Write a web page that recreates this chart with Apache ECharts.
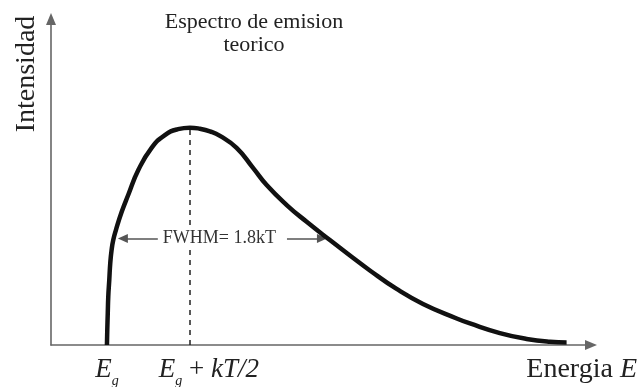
<!DOCTYPE html>
<html>
<head>
<meta charset="utf-8">
<script src="https://cdn.jsdelivr.net/npm/echarts@6/dist/echarts.min.js"></script>
<style>
  html, body { margin: 0; padding: 0; background: #ffffff; }
  #chart { width: 639px; height: 387px; }
</style>
</head>
<body>
<div id="chart"></div>
<script>
// Emission spectrum: energy as (E - Eg)/kT, intensity normalised to the peak value.
const energy = [0, 0.002, 0.005, 0.008, 0.014, 0.02, 0.028, 0.038, 0.054, 0.089, 0.128, 0.189, 0.269,
  0.349, 0.428, 0.5, 0.56, 0.62, 0.681, 0.781, 0.88, 0.962, 1.083, 1.203, 1.343, 1.464, 1.584, 1.745,
  1.904, 2.107, 2.187, 2.367, 2.528, 2.669, 2.769];
const intensity = [0, 0.069, 0.147, 0.222, 0.299, 0.377, 0.437, 0.483, 0.529, 0.613, 0.69, 0.805, 0.907,
  0.966, 0.993, 1.0, 0.995, 0.983, 0.962, 0.907, 0.815, 0.736, 0.644, 0.567, 0.483, 0.412, 0.343, 0.258,
  0.189, 0.122, 0.099, 0.055, 0.028, 0.015, 0.012];

// Marked energies on the horizontal axis and their labels
const tickValues = [0, 0.5];
const tickLabels = ['{e|E}{g|g}', '{p|E}{g|g}{r| + }{e|kT/2}'];

// Peak marker and full width at half maximum arrow
const peakEnergy = 0.5;
const peakIntensity = 1.0;
const fwhmLevel = 0.49;
const fwhmStart = 0.096;
const fwhmEnd = 1.295;
const fwhmText = 'FWHM= 1.8kT';

const titleText = 'Espectro de emision\nteorico';
const yTitle = 'Intensidad';
const xTitle = '{n|Energia }{i|E}';

const serif = 'Liberation Serif';
const curve = energy.map((e, i) => [e, intensity[i]]);

const chart = echarts.init(document.getElementById('chart'), null, { renderer: 'canvas' });

chart.setOption({
  animation: false,
  backgroundColor: '#ffffff',
  title: {
    text: titleText,
    left: 254,
    top: 11,
    padding: 0,
    textAlign: 'center',
    textStyle: { fontFamily: serif, fontSize: 22, fontWeight: 'normal', color: '#222', lineHeight: 23 }
  },
  grid: { left: 51, right: 48, top: 19, bottom: 42, containLabel: false, outerBoundsMode: 'none' },
  xAxis: {
    type: 'value',
    min: -0.337,
    max: 2.916,
    name: xTitle,
    nameLocation: 'end',
    nameGap: 46,
    nameTextStyle: {
      align: 'right',
      verticalAlign: 'top',
      padding: [10, 0, 0, 0],
      rich: {
        n: { fontFamily: serif, fontSize: 28, color: '#222', lineHeight: 30 },
        i: { fontFamily: serif, fontSize: 28, fontStyle: 'italic', color: '#222', lineHeight: 30 }
      }
    },
    axisLine: {
      show: true,
      onZero: true,
      symbol: ['none', 'triangle'],
      symbolSize: [10, 12],
      lineStyle: { color: '#666', width: 1.6 }
    },
    axisTick: { show: false },
    splitLine: { show: false },
    axisLabel: {
      show: true,
      customValues: tickValues,
      margin: 11,
      formatter: (v) => tickLabels[tickValues.indexOf(v)] || '',
      rich: {
        e: { fontFamily: serif, fontSize: 27, fontStyle: 'italic', color: '#222', lineHeight: 30, verticalAlign: 'top' },
        p: { fontFamily: serif, fontSize: 27, fontStyle: 'italic', color: '#222', lineHeight: 30, verticalAlign: 'top', padding: [0, 0, 0, 38] },
        r: { fontFamily: serif, fontSize: 27, color: '#222', lineHeight: 30, verticalAlign: 'top' },
        g: { fontFamily: serif, fontSize: 14, fontStyle: 'italic', color: '#222', lineHeight: 16, verticalAlign: 'top', padding: [18, 0, 0, 0] }
      }
    }
  },
  yAxis: {
    type: 'value',
    min: 0,
    max: 1.5,
    axisLine: {
      show: true,
      onZero: false,
      symbol: ['none', 'triangle'],
      symbolSize: [10, 12],
      lineStyle: { color: '#666', width: 1.6 }
    },
    axisTick: { show: false },
    axisLabel: { show: false },
    splitLine: { show: false }
  },
  graphic: [{
    type: 'text',
    x: 27,
    y: 74,
    rotation: Math.PI / 2,
    style: {
      text: yTitle,
      font: '28px "Liberation Serif"',
      fill: '#222',
      align: 'center',
      verticalAlign: 'middle'
    }
  }],
  series: [
    {
      // guide lines: dashed peak marker and FWHM arrow
      type: 'line',
      data: [],
      silent: true,
      z: 2,
      markLine: {
        silent: true,
        animation: false,
        data: [
          [
            { coord: [peakEnergy, 0], symbol: 'none',
              lineStyle: { color: '#222', width: 1.5, type: [5, 5] }, label: { show: false } },
            { coord: [peakEnergy, peakIntensity], symbol: 'none' }
          ],
          [
            { coord: [fwhmStart, fwhmLevel], symbol: 'triangle', symbolSize: [9, 10],
              lineStyle: { color: '#555', width: 1.5, type: 'solid' },
              label: {
                show: true, position: 'middle', distance: -10,
                formatter: fwhmText,
                fontFamily: serif, fontSize: 18, lineHeight: 20, color: '#333',
                backgroundColor: '#ffffff', padding: [0, 11, 0, 5]
              } },
            { coord: [fwhmEnd, fwhmLevel], symbol: 'triangle', symbolSize: [9, 10] }
          ]
        ]
      }
    },
    {
      type: 'line',
      data: curve,
      showSymbol: false,
      smooth: 0.5,
      z: 5,
      lineStyle: { color: '#111', width: 4.5, cap: 'butt' }
    }
  ]
});
</script>
</body>
</html>
